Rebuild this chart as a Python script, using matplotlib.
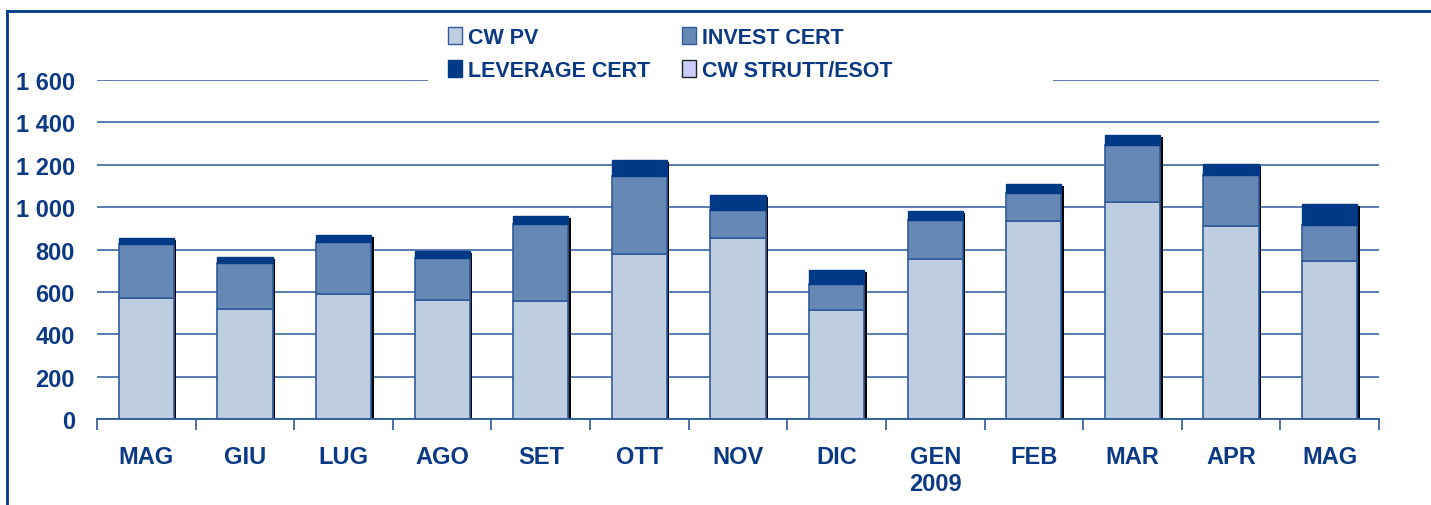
import numpy as np
import matplotlib.pyplot as plt
from matplotlib.patches import Patch, Rectangle
from matplotlib.lines import Line2D

months = ['MAG', 'GIU', 'LUG', 'AGO', 'SET', 'OTT', 'NOV', 'DIC',
          'GEN\n2009', 'FEB', 'MAR', 'APR', 'MAG']
cw_pv = [573, 520, 592, 560, 557, 780, 854, 513, 754, 936, 1026, 911, 748]
invest_cert = [252, 217, 245, 202, 365, 365, 134, 124, 183, 130, 266, 241, 166]
leverage_cert = [28, 29, 33, 33, 36, 77, 69, 65, 45, 43, 47, 50, 103]
cw_strutt = [0, 0, 0, 0, 0, 0, 0, 0, 0, 0, 0, 0, 0]

yticks = [0, 200, 400, 600, 800, 1000, 1200, 1400, 1600]
ytick_labels = ['0', '200', '400', '600', '800', '1 000', '1 200', '1 400', '1 600']

txt = '#0b3a84'
grid_col = '#2c5a9c'
c_pv = '#bfcde0'
c_inv = '#6688b4'
c_lev = '#003a87'
c_str = '#ccccff'
edge = '#2f5c9e'

plt.rcParams['font.family'] = ['Liberation Sans', 'DejaVu Sans']
plt.rcParams['font.weight'] = 'bold'

W, H = 1431, 506
fig = plt.figure(figsize=(W / 100, H / 100), dpi=100)
ax = fig.add_axes([97 / W, 1 - 420 / H, (1379 - 97) / W, (420 - 81) / H])

x = np.arange(len(months))
pv = np.array(cw_pv)
inv = np.array(invest_cert)
lev = np.array(leverage_cert)
stru = np.array(cw_strutt)
total = pv + inv + lev + stru
w = 0.56

# black drop shadow on the right side of each stack
ax.bar(x + 0.025, total - 10, w, color='black', linewidth=0, zorder=2)
ax.bar(x, pv, w, color=c_pv, edgecolor=edge, linewidth=1.2, zorder=3)
ax.bar(x, inv, w, bottom=pv, color=c_inv, edgecolor=edge, linewidth=1.2, zorder=3)
ax.bar(x, lev, w, bottom=pv + inv, color=c_lev, edgecolor=c_lev, linewidth=1.0, zorder=3)
ax.bar(x, stru, w, bottom=pv + inv + lev, color=c_str, linewidth=0, zorder=3)

ax.set_xlim(-0.5, len(months) - 0.5)
ax.set_ylim(0, 1600)
ax.set_yticks(yticks)
ax.set_yticklabels(ytick_labels, fontsize=17, color=txt, fontweight='bold')
ax.tick_params(axis='y', length=0, pad=16)
ax.set_xticks(x)
ax.set_xticklabels(months, fontsize=17, color=txt, fontweight='bold', va='top',
                   linespacing=1.2)
ax.tick_params(axis='x', length=0, pad=19)
ax.set_xticks(np.arange(len(months) + 1) - 0.5, minor=True)
ax.tick_params(axis='x', which='minor', length=8, width=1.2, color=grid_col)

for s in ['top', 'right', 'left']:
    ax.spines[s].set_visible(False)
ax.spines['bottom'].set_color(grid_col)
ax.spines['bottom'].set_linewidth(1.3)
ax.spines['bottom'].set_zorder(4)

ax.yaxis.grid(True, color=grid_col, linewidth=1.1)
ax.set_axisbelow(True)

# white box behind the legend, interrupting the top gridline
fig.add_artist(Rectangle((428 / W, 1 - 86 / H), (1053 - 428) / W, 10 / H,
                         transform=fig.transFigure, facecolor='white',
                         edgecolor='none', zorder=5))

handles = [Patch(facecolor=c_pv, edgecolor=edge, label='CW PV'),
           Patch(facecolor=c_lev, edgecolor=c_lev, label='LEVERAGE CERT'),
           Patch(facecolor=c_inv, edgecolor=edge, label='INVEST CERT'),
           Patch(facecolor=c_str, edgecolor='#222222', label='CW STRUTT/ESOT')]
leg = fig.legend(handles=handles, ncol=2, loc='upper left',
                 bbox_to_anchor=(448 / W, 1 - 28 / H),
                 frameon=False, fontsize=15.5, handlelength=0.65, handleheight=0.8,
                 handletextpad=0.3, columnspacing=1.45, labelspacing=0.55,
                 borderpad=0, borderaxespad=0)
for t in leg.get_texts():
    t.set_color(txt)
    t.set_fontweight('bold')
leg.set_zorder(10)

# outer frame: top and left lines
fig.add_artist(Line2D([7 / W, 1], [1 - 12 / H, 1 - 12 / H], color='#003a87', linewidth=2))
fig.add_artist(Line2D([7 / W, 7 / W], [0, 1 - 12 / H], color='#003a87', linewidth=2))

fig.savefig('out.png', dpi=100)
